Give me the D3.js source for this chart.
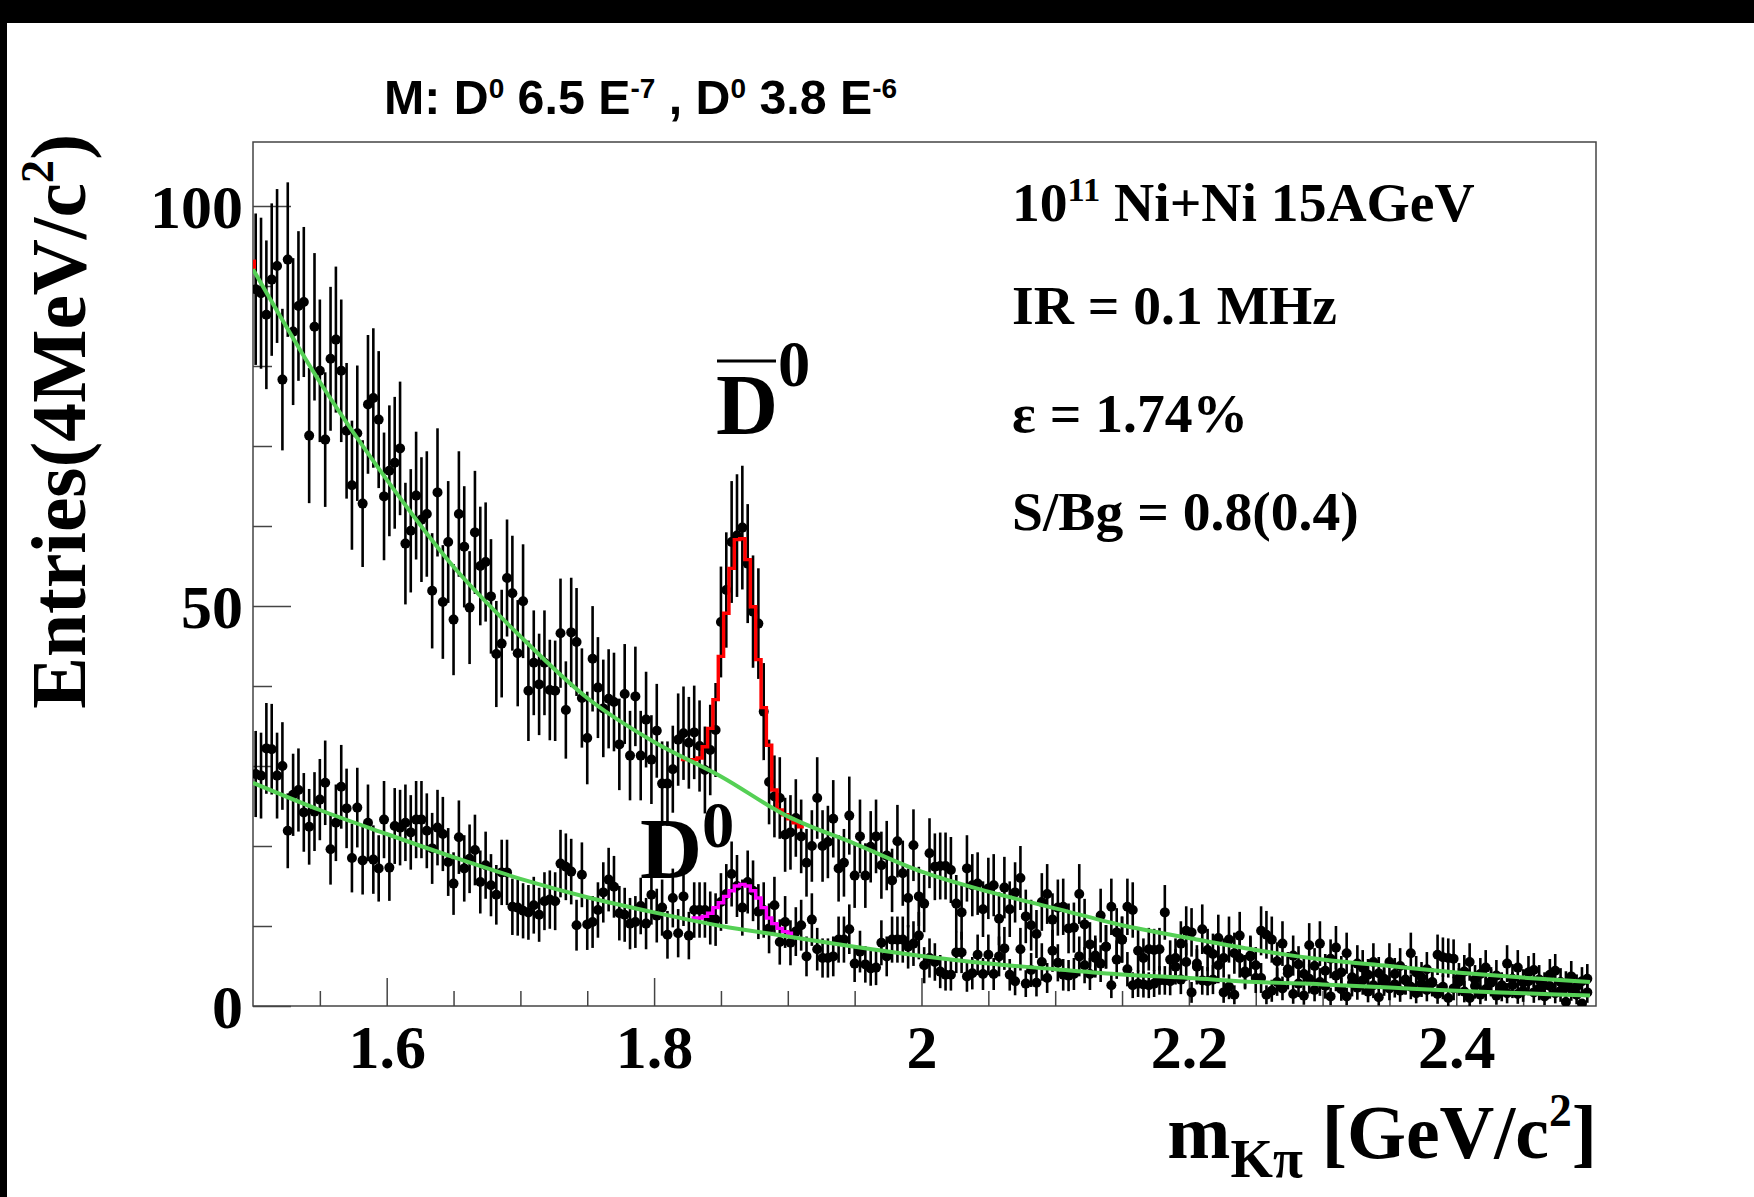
<!DOCTYPE html>
<html>
<head>
<meta charset="utf-8">
<script src="https://cdn.jsdelivr.net/npm/d3@7"></script>
<style>
  html, body { margin: 0; padding: 0; background: #fff; }
  svg { display: block; }
</style>
</head>
<body>
<svg id="chart" width="1754" height="1197"></svg>
<script>
// ---- binning of the K-pi invariant mass histograms (4 MeV bins, 1.5 - 2.5 GeV) ----
const binLow = 1.5;
const binWidth = 0.004;

// anti-D0 candidates: entries per bin
const antiD0Counts = [
  89.6, 89.1, 86.4, 90.8, 92.5, 78.3, 93.3, 84.3, 87.5, 88.0,
  71.3, 84.9, 79.4, 70.8, 80.9, 83.3, 79.4, 71.9, 65.1, 71.6,
  62.8, 75.2, 76.0, 73.3, 63.7, 66.9, 67.9, 69.7, 57.8, 59.4,
  63.8, 60.8, 61.5, 51.9, 64.2, 50.5, 58.0, 48.3, 61.5, 57.4,
  49.8, 59.2, 55.0, 55.5, 51.2, 44.0, 45.3, 53.5, 51.6, 44.1,
  50.6, 39.4, 42.9, 40.2, 42.9, 39.5, 39.4, 46.6, 37.0, 46.7,
  45.5, 38.5, 33.5, 43.4, 39.8, 37.2, 38.4, 38.0, 32.7, 39.0,
  31.3, 38.7, 31.3, 35.8, 30.8, 34.4, 27.8, 27.8, 29.6, 33.3,
  34.1, 32.9, 34.2, 32.5, 29.5, 32.0, 34.5, 48.0, 52.0, 58.0,
  58.8, 59.8, 55.3, 49.3, 47.8, 36.8, 28.0, 26.2, 26.0, 21.4,
  21.7, 23.5, 21.2, 17.9, 20.0, 26.0, 20.0, 20.5, 23.4, 17.2,
  17.9, 23.8, 16.3, 21.2, 16.3, 19.9, 21.2, 17.6, 18.8, 15.7,
  20.6, 16.6, 13.5, 20.1, 13.7, 12.8, 19.1, 17.4, 17.5, 17.5,
  17.0, 12.8, 11.7, 17.2, 15.1, 15.3, 12.1, 14.7, 15.1, 10.9,
  14.8, 12.1, 14.2, 16.0, 11.2, 10.1, 9.0, 13.0, 14.0, 10.8,
  12.3, 12.4, 9.7, 9.8, 14.0, 10.2, 7.7, 6.3, 11.3, 7.4,
  12.4, 9.2, 8.3, 12.4, 12.0, 6.9, 6.0, 7.1, 7.0, 7.1,
  11.7, 5.8, 6.0, 7.8, 9.4, 9.2, 4.9, 9.6, 7.0, 6.5,
  8.5, 6.0, 8.3, 6.6, 8.8, 4.1, 6.3, 5.1, 9.4, 8.9,
  8.3, 5.6, 7.8, 4.6, 6.3, 5.2, 4.0, 7.6, 5.0, 7.8,
  4.4, 5.9, 7.3, 4.2, 6.6, 3.6, 5.3, 4.8, 3.9, 5.5,
  4.1, 3.4, 5.5, 4.0, 5.0, 3.2, 6.6, 4.2, 3.6, 4.6,
  3.0, 6.4, 6.1, 6.0, 5.9, 3.5, 4.3, 5.5, 3.3, 4.0,
  4.8, 3.1, 3.8, 2.6, 5.3, 3.4, 4.8, 2.9, 4.2, 4.5,
  3.3, 2.6, 3.9, 4.4, 3.0, 2.7, 3.7, 2.4, 3.1, 3.4
];

// D0 candidates: entries per bin
const d0Counts = [
  29.0, 28.8, 32.2, 32.1, 28.8, 30.0, 21.9, 26.4, 27.0, 24.2,
  22.4, 24.3, 25.8, 27.9, 19.6, 22.9, 27.4, 24.7, 18.5, 24.8,
  18.2, 22.9, 18.3, 17.2, 23.3, 17.3, 22.5, 22.3, 22.9, 21.7,
  23.3, 23.3, 21.9, 19.7, 22.3, 21.5, 18.0, 15.3, 21.1, 17.2,
  18.4, 19.5, 15.5, 17.6, 15.1, 13.9, 16.7, 16.7, 12.4, 12.3,
  11.9, 11.7, 12.6, 11.4, 13.1, 13.3, 13.1, 17.8, 17.4, 16.8,
  10.1, 16.4, 10.2, 10.5, 12.0, 14.2, 15.8, 14.9, 11.6, 11.4,
  10.3, 10.5, 12.5, 10.3, 13.9, 11.3, 12.3, 8.9, 13.5, 9.1,
  13.7, 8.8, 12.0, 12.0, 12.0, 11.0, 10.8, 13.0, 14.0, 16.5,
  15.0, 12.3, 15.5, 14.4, 11.8, 12.0, 9.7, 12.6, 8.0, 10.5,
  7.9, 9.3, 10.1, 6.2, 10.8, 7.1, 6.0, 6.0, 6.2, 8.3,
  8.3, 9.6, 5.3, 6.8, 5.2, 4.7, 4.8, 7.9, 6.2, 8.3,
  8.3, 8.3, 7.4, 7.8, 8.8, 5.1, 6.0, 5.5, 4.3, 3.9,
  3.9, 6.7, 6.7, 3.7, 4.1, 6.4, 4.0, 6.4, 4.0, 6.2,
  7.2, 3.9, 3.1, 7.1, 2.8, 4.5, 2.9, 5.5, 3.5, 6.9,
  5.4, 3.9, 3.8, 4.0, 6.2, 5.1, 4.0, 6.0, 5.3, 7.4,
  2.6, 5.8, 8.3, 4.6, 2.6, 2.8, 2.7, 2.6, 2.8, 3.2,
  3.2, 3.1, 4.9, 3.3, 5.5, 1.7, 5.3, 3.2, 3.1, 3.3,
  5.1, 1.7, 2.4, 1.4, 6.0, 4.3, 6.2, 3.5, 3.5, 1.4,
  1.9, 3.0, 2.2, 4.1, 1.5, 2.8, 1.3, 3.4, 2.0, 3.0,
  2.5, 1.2, 3.8, 2.1, 1.2, 2.9, 2.3, 3.2, 1.8, 2.6,
  1.1, 3.0, 2.2, 2.7, 1.9, 3.3, 2.4, 1.6, 2.8, 2.0,
  2.9, 1.5, 2.4, 1.0, 2.2, 3.0, 1.8, 1.0, 2.5, 1.4,
  2.1, 2.9, 1.3, 2.0, 1.6, 2.6, 1.5, 1.9, 3.1, 1.7,
  2.2, 1.2, 2.5, 1.6, 1.9, 0.5, 2.1, 1.4, 0.3, 1.7
];

// background fits, evaluated every 50 MeV
const fitMass = [1.50, 1.55, 1.60, 1.65, 1.70, 1.75, 1.80, 1.85, 1.90, 1.95, 2.00,
                 2.05, 2.10, 2.15, 2.20, 2.25, 2.30, 2.35, 2.40, 2.45, 2.50];
const antiD0Background = [92.1, 78.0, 65.8, 54.9, 46.2, 38.5, 33.0, 28.7, 23.7, 20.3, 16.8,
                          14.3, 12.2, 10.1, 8.5, 7.0, 5.8, 5.0, 4.2, 3.55, 3.0];
const d0Background = [27.9, 24.5, 21.5, 18.6, 15.9, 13.6, 11.7, 10.0, 8.7, 7.4, 6.25,
                      5.3, 4.6, 3.95, 3.5, 3.0, 2.7, 2.3, 1.9, 1.6, 1.3];

// signal + background fits around the peaks, per bin
const antiD0FitFirstBin = 80;
const antiD0Fit = [30.8, 30.8, 30.8, 31.0, 32.4, 34.7, 38.3, 43.7, 49.1, 54.7, 58.3, 58.4,
                   55.8, 49.9, 43.3, 37.3, 32.6, 27.0, 24.5, 23.9, 23.4, 22.9, 22.4];
const antiD0FitStart = 93.3;
const d0FitFirstBin = 82;
const d0Fit = [11.0, 11.0, 11.2, 11.6, 12.3, 12.9, 13.7, 14.4, 15.0, 15.2, 15.0, 14.4,
               13.5, 12.3, 11.0, 10.3, 9.7, 9.3, 9.1];

// axis ticks
const yMajorTicks = [0, 50, 100];
const yMinorTicks = [10, 20, 30, 40, 60, 70, 80, 90];
const xMajorTicks = [1.6, 1.8, 2.0, 2.2, 2.4];
const xTickLabels = ["1.6", "1.8", "2", "2.2", "2.4"];
const xMinorTicks = [1.55, 1.65, 1.7, 1.75, 1.85, 1.9, 1.95, 2.05, 2.1, 2.15,
                     2.25, 2.3, 2.35, 2.45];

// ---------------------------------------------------------------------------
const W = 1754, H = 1197;
const frame = { left: 253, right: 1596, top: 142, bottom: 1006 };
const SERIF = "'Liberation Serif', 'Times New Roman', serif";
const SANS = "'Liberation Sans', Arial, sans-serif";
const GREEN = "#55d055";

const svg = d3.select("#chart");

const x = d3.scaleLinear().domain([1.5, 2.5045]).range([frame.left, frame.right]);
const y = d3.scaleLinear().domain([0, 108]).range([frame.bottom, frame.top]);

// canvas border
svg.append("rect").attr("x", 0).attr("y", 0).attr("width", W).attr("height", H).attr("fill", "#fff");
svg.append("rect").attr("x", 0).attr("y", 0).attr("width", W).attr("height", 23).attr("fill", "#000");
svg.append("rect").attr("x", 0).attr("y", 0).attr("width", 7).attr("height", H).attr("fill", "#000");

svg.append("defs").append("clipPath").attr("id", "plotClip")
  .append("rect")
  .attr("x", frame.left).attr("y", frame.top)
  .attr("width", frame.right - frame.left).attr("height", frame.bottom - frame.top);

// ---- axes ----
const axisG = svg.append("g");

axisG.append("g")
  .attr("transform", `translate(${frame.left},0)`)
  .call(d3.axisLeft(y).tickValues(yMinorTicks).tickSizeInner(-19).tickSizeOuter(0).tickFormat(""))
  .call(g => g.select(".domain").remove());

axisG.append("g")
  .attr("transform", `translate(${frame.left},0)`)
  .call(d3.axisLeft(y).tickValues(yMajorTicks).tickSizeInner(-38).tickSizeOuter(0).tickPadding(10)
        .tickFormat(d3.format("d")))
  .call(g => g.select(".domain").remove())
  .call(g => g.selectAll("text")
        .attr("font-family", SERIF).attr("font-weight", "bold").attr("font-size", 62)
        .attr("fill", "#000").attr("dy", "0.34em"));

axisG.append("g")
  .attr("transform", `translate(0,${frame.bottom})`)
  .call(d3.axisBottom(x).tickValues(xMinorTicks).tickSizeInner(-15).tickSizeOuter(0).tickFormat(""))
  .call(g => g.select(".domain").remove());

axisG.append("g")
  .attr("transform", `translate(0,${frame.bottom})`)
  .call(d3.axisBottom(x).tickValues(xMajorTicks).tickSizeInner(-28).tickSizeOuter(0).tickPadding(18)
        .tickFormat((d, i) => xTickLabels[i]))
  .call(g => g.select(".domain").remove())
  .call(g => g.selectAll("text")
        .attr("font-family", SERIF).attr("font-weight", "bold").attr("font-size", 62)
        .attr("fill", "#000"));

axisG.selectAll(".tick line").attr("stroke", "#444").attr("stroke-width", 1.5);

// frame
svg.append("rect")
  .attr("x", frame.left).attr("y", frame.top)
  .attr("width", frame.right - frame.left).attr("height", frame.bottom - frame.top)
  .attr("fill", "none").attr("stroke", "#444").attr("stroke-width", 1.5);

// ---- data ----
const plot = svg.append("g").attr("clip-path", "url(#plotClip)");
const binCenter = i => binLow + (i + 0.5) * binWidth;
const binEdge = i => binLow + i * binWidth;

function drawPoints(counts) {
  const g = plot.append("g");
  g.selectAll("line.err").data(counts).join("line")
    .attr("class", "err")
    .attr("x1", (d, i) => x(binCenter(i))).attr("x2", (d, i) => x(binCenter(i)))
    .attr("y1", d => y(Math.max(0, d - Math.sqrt(d))))
    .attr("y2", d => y(d + Math.sqrt(d)))
    .attr("stroke", "#000").attr("stroke-width", 2.6);
  g.selectAll("circle").data(counts).join("circle")
    .attr("cx", (d, i) => x(binCenter(i))).attr("cy", d => y(d))
    .attr("r", 5).attr("fill", "#000");
}
drawPoints(d0Counts);
drawPoints(antiD0Counts);

// stepped fit histograms
function stepPoints(values, firstBin) {
  const pts = values.map((v, k) => [binEdge(firstBin + k), v]);
  pts.push([binEdge(firstBin + values.length), values[values.length - 1]]);
  return pts;
}
const stepLine = d3.line().x(d => x(d[0])).y(d => y(d[1])).curve(d3.curveStepAfter);

plot.append("path")
  .attr("d", stepLine(stepPoints(antiD0Fit, antiD0FitFirstBin)))
  .attr("fill", "none").attr("stroke", "#ff0000").attr("stroke-width", 3.4);
plot.append("line")
  .attr("x1", x(binLow) + 1.5).attr("x2", x(binLow) + 1.5)
  .attr("y1", y(antiD0Background[0])).attr("y2", y(antiD0FitStart))
  .attr("stroke", "#ff0000").attr("stroke-width", 3);
plot.append("path")
  .attr("d", stepLine(stepPoints(d0Fit, d0FitFirstBin)))
  .attr("fill", "none").attr("stroke", "#ff00ff").attr("stroke-width", 3.4);

// smooth background fits
const bgLine = d3.line().x(d => x(d[0])).y(d => y(d[1])).curve(d3.curveMonotoneX);
[antiD0Background, d0Background].forEach(vals => {
  plot.append("path")
    .attr("d", bgLine(fitMass.map((m, k) => [m, vals[k]])))
    .attr("fill", "none").attr("stroke", GREEN).attr("stroke-width", 4);
});

// ---- text ----
function richText(parent, xPos, yPos, size, family, parts, anchor) {
  const t = parent.append("text")
    .attr("x", xPos).attr("y", yPos)
    .attr("font-family", family).attr("font-weight", "bold")
    .attr("font-size", size).attr("fill", "#000")
    .attr("text-anchor", anchor || "start");
  let shift = 0;
  parts.forEach(p => {
    const rel = p.rel || 1;
    const target = p.shift || 0;
    const s = t.append("tspan").text(p.t).attr("font-size", size * rel);
    const dy = target - shift;
    if (dy !== 0) s.attr("dy", dy);
    shift = target;
  });
  return t;
}

// heading
richText(svg, 384, 114, 48.3, SANS, [
  { t: "M: D" },
  { t: "0", rel: 0.58, shift: -16 },
  { t: " 6.5 E" },
  { t: "-7", rel: 0.58, shift: -16 },
  { t: " , D" },
  { t: "0", rel: 0.58, shift: -16 },
  { t: " 3.8 E" },
  { t: "-6", rel: 0.58, shift: -16 }
]);

// run conditions
const info = svg.append("g");
richText(info, 1012, 221, 55.6, SERIF, [
  { t: "10" }, { t: "11", rel: 0.62, shift: -20 }, { t: " Ni+Ni 15AGeV" }
]);
richText(info, 1012, 324, 55.6, SERIF, [{ t: "IR = 0.1 MHz" }]);
richText(info, 1012, 432, 55.6, SERIF, [{ t: "\u03b5 = 1.74%" }]);
richText(info, 1012, 530, 55.6, SERIF, [{ t: "S/Bg = 0.8(0.4)" }]);

// peak labels
richText(svg, 716, 434, 86, SERIF, [{ t: "D" }, { t: "0", rel: 0.75, shift: -48 }]);
svg.append("line").attr("x1", 717).attr("x2", 776).attr("y1", 361).attr("y2", 361)
  .attr("stroke", "#000").attr("stroke-width", 3);
richText(svg, 640, 878, 86, SERIF, [{ t: "D" }, { t: "0", rel: 0.75, shift: -31 }]);

// axis titles
richText(svg, 1597, 1158, 75.8, SERIF, [
  { t: "m" }, { t: "K\u03c0", rel: 0.72, shift: 19 }, { t: " [GeV/c" },
  { t: "2", rel: 0.6, shift: -32 }, { t: "]" }
], "end");

richText(svg.append("g").attr("transform", "translate(85,134) rotate(-90)"), 0, 0, 77.6, SERIF, [
  { t: "Entries(4MeV/c" }, { t: "2", rel: 0.6, shift: -32 }, { t: ")" }
], "end");
</script>
</body>
</html>
